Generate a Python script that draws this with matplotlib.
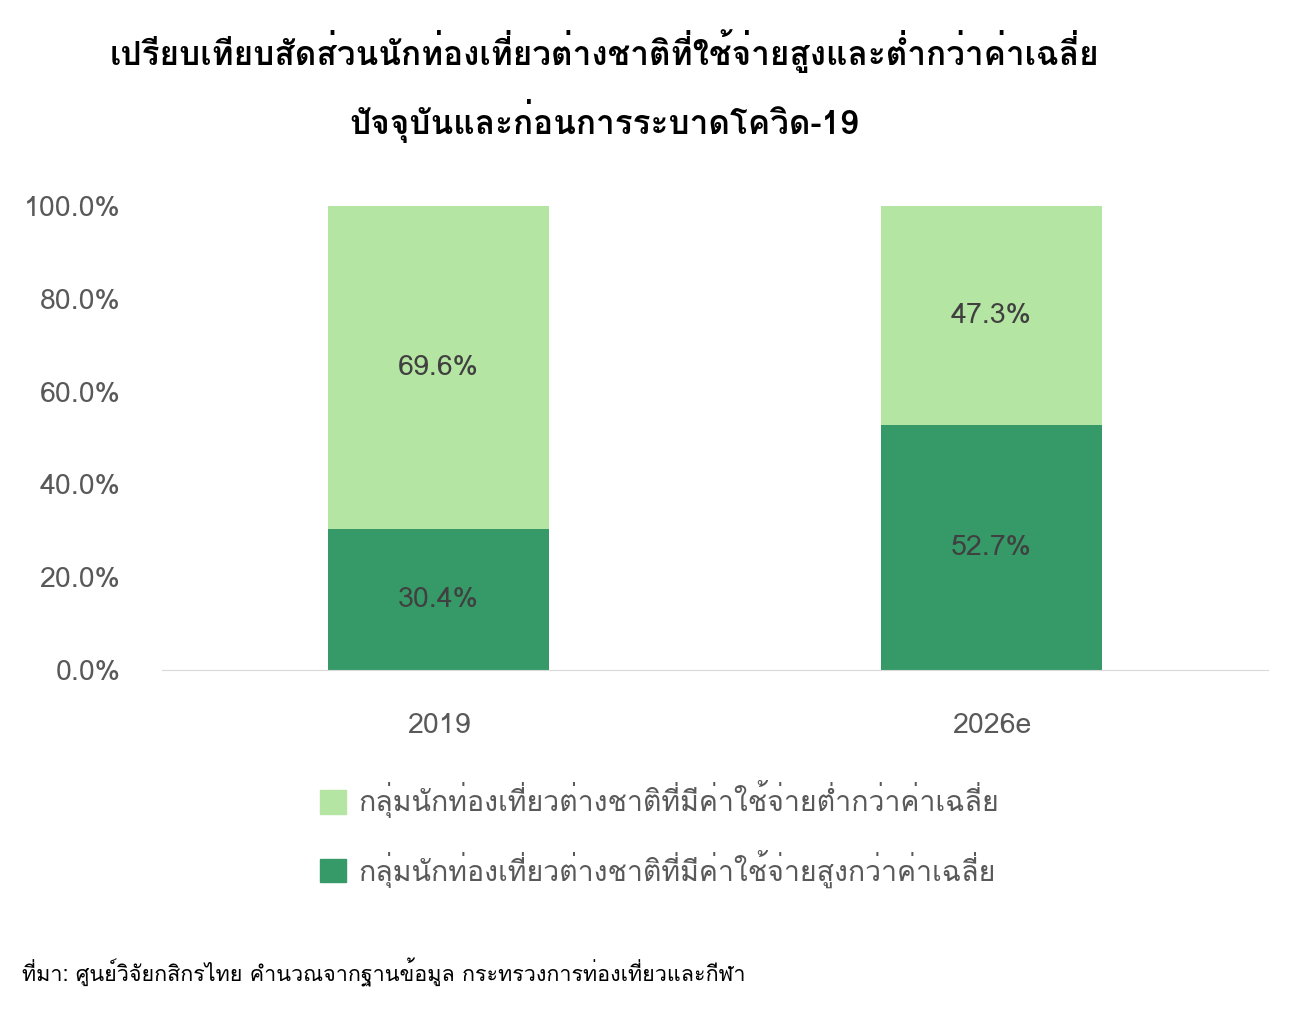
import matplotlib
matplotlib.use("Agg")
import matplotlib.pyplot as plt
from matplotlib import font_manager, ft2font
from matplotlib.patches import Patch

# ---- find fonts with Thai glyphs ----
thai_fams = []
for f in font_manager.fontManager.ttflist:
    try:
        cm = ft2font.FT2Font(f.fname).get_charmap()
        if ord('ก') in cm and f.name not in thai_fams:
            thai_fams.append(f.name)
    except Exception:
        pass
FAMS = thai_fams + ['DejaVu Sans']
plt.rcParams['font.family'] = FAMS

# ---- data ----
categories = ['2019', '2026e']
high_spend = [30.4, 52.7]
low_spend = [69.6, 47.3]
label_low = 'กลุ่มนักท่องเที่ยวต่างชาติที่มีค่าใช้จ่ายต่ำกว่าค่าเฉลี่ย'
label_high = 'กลุ่มนักท่องเที่ยวต่างชาติที่มีค่าใช้จ่ายสูงกว่าค่าเฉลี่ย'
title1 = 'เปรียบเทียบสัดส่วนนักท่องเที่ยวต่างชาติที่ใช้จ่ายสูงและต่ำกว่าค่าเฉลี่ย'
title2 = 'ปัจจุบันและก่อนการระบาดโควิด-19'
source = 'ที่มา: ศูนย์วิจัยกสิกรไทย คำนวณจากฐานข้อมูล กระทรวงการท่องเที่ยวและกีฬา'
yticks = [0, 20, 40, 60, 80, 100]

c_low = '#b5e5a2'
c_high = '#359a68'
FS = 20.5

fig = plt.figure(figsize=(12.92, 10.21), dpi=100)
ax = fig.add_axes([0.1254, 0.3438, 0.856, 0.4544])
x = list(range(len(categories)))
ax.bar(x, high_spend, width=0.4, color=c_high)
ax.bar(x, low_spend, width=0.4, bottom=high_spend, color=c_low)
for i in x:
    ax.text(i, high_spend[i] / 2, f'{high_spend[i]:.1f}%', ha='center', va='center',
            fontsize=FS, color='#404040')
    ax.text(i, high_spend[i] + low_spend[i] / 2, f'{low_spend[i]:.1f}%', ha='center', va='center',
            fontsize=FS, color='#404040')

ax.set_xlim(-0.5, 1.5)
ax.set_ylim(0, 100)
ax.set_yticks(yticks)
ax.set_yticklabels([f'{v:.1f}%' for v in yticks])
ax.set_xticks(x)
ax.set_xticklabels(categories)
ax.tick_params(axis='both', length=0, labelsize=FS, colors='#595959')
ax.tick_params(axis='x', pad=31)
ax.tick_params(axis='y', pad=30)
for s in ['top', 'right', 'left']:
    ax.spines[s].set_visible(False)
ax.spines['bottom'].set_color('#d9d9d9')

fig.text(0.468, 1 - 65 / 1021, title1, ha='center', va='baseline', fontsize=24,
         fontweight='bold', color='black')
fig.text(0.468, 1 - 134 / 1021, title2, ha='center', va='baseline', fontsize=24,
         fontweight='bold', color='black')

handles = [Patch(color=c_low), Patch(color=c_high)]
fig.legend(handles, [label_low, label_high], loc='center left',
           bbox_to_anchor=(320 / 1292, 1 - 834 / 1021), borderaxespad=0, borderpad=0,
           frameon=False, fontsize=FS, labelcolor='#595959', handlelength=0.91,
           handleheight=0.91, labelspacing=1.08, handletextpad=0.42)

fig.text(22 / 1292, 1 - 972 / 1021, source, ha='left', va='center', fontsize=15.5, color='black')

fig.savefig('out.png', dpi=100)
